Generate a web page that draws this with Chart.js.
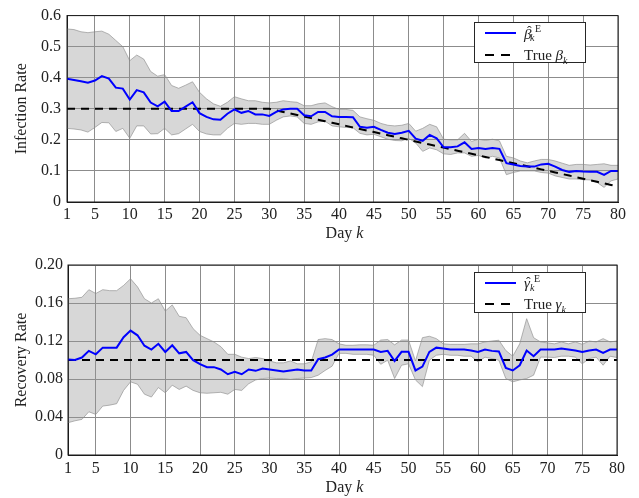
<!DOCTYPE html>
<html>
<head>
<meta charset="utf-8">
<script src="https://cdn.jsdelivr.net/npm/chart.js@4.4.1/dist/chart.umd.min.js"></script>
<style>
  html,body{margin:0;padding:0;background:#fff;}
  body{width:639px;height:498px;position:relative;overflow:hidden;font-family:"Liberation Serif",serif;}
  .wrap{position:absolute;left:0;width:639px;}
  .leg{position:absolute;background:#fff;border:1px solid #262626;box-sizing:border-box;font-size:15px;color:#222;}
  .ln{position:absolute;height:0;}
  .t{position:absolute;white-space:nowrap;line-height:1;}
  .s{font-size:10px;}
  .dash{position:absolute;height:0;border-top:2px solid #000;width:9px;}
</style>
</head>
<body>
<div class="wrap" style="top:0;height:250px;"><canvas id="c1" width="639" height="250"></canvas></div>
<div class="wrap" style="top:250px;height:248px;"><canvas id="c2" width="639" height="248"></canvas></div>

<div class="leg" style="left:474px;top:22px;width:112px;height:41px;">
  <div class="ln" style="left:10px;top:9px;width:31px;border-top:2px solid #0000ff;"></div>
  <div class="t" style="left:49px;top:4px;"><i>β</i></div>
  <div class="t" style="left:52px;top:2px;font-size:14px;">ˆ</div>
  <div class="t s" style="left:60px;top:1px;">E</div>
  <div class="t s" style="left:55px;top:10px;"><i>k</i></div>
  <div class="dash" style="left:10px;top:31px;"></div>
  <div class="dash" style="left:26px;top:31px;"></div>
  <div class="t" style="left:49px;top:25px;">True <i>β</i><sub style="font-size:10px;"><i>k</i></sub></div>
</div>
<div class="leg" style="left:474px;top:272px;width:112px;height:41px;">
  <div class="ln" style="left:10px;top:9px;width:31px;border-top:2px solid #0000ff;"></div>
  <div class="t" style="left:49px;top:3px;"><i>γ</i></div>
  <div class="t" style="left:51px;top:3px;font-size:14px;">ˆ</div>
  <div class="t s" style="left:59px;top:1px;">E</div>
  <div class="t s" style="left:55px;top:10px;"><i>k</i></div>
  <div class="dash" style="left:10px;top:30px;"></div>
  <div class="dash" style="left:26px;top:30px;"></div>
  <div class="t" style="left:49px;top:24px;">True <i>γ</i><sub style="font-size:10px;"><i>k</i></sub></div>
</div>

<script>
// ---------- data ----------
const days = Array.from({length: 80}, (_, i) => i + 1);
const dayTicks = [1, 5, 10, 15, 20, 25, 30, 35, 40, 45, 50, 55, 60, 65, 70, 75, 80];

const betaTicks = [0, 0.1, 0.2, 0.3, 0.4, 0.5, 0.6];
const betaTickLabels = ['0', '0.1', '0.2', '0.3', '0.4', '0.5', '0.6'];
const gammaTicks = [0, 0.04, 0.08, 0.12, 0.16, 0.20];
const gammaTickLabels = ['0', '0.04', '0.08', '0.12', '0.16', '0.20'];

const betaEst = [
  0.397, 0.393, 0.389, 0.384, 0.391, 0.405, 0.397, 0.368, 0.365, 0.330,
  0.360, 0.353, 0.320, 0.308, 0.323, 0.293, 0.293, 0.307, 0.321, 0.286,
  0.274, 0.266, 0.265, 0.284, 0.298, 0.287, 0.293, 0.282, 0.282, 0.277,
  0.290, 0.298, 0.300, 0.300, 0.279, 0.276, 0.290, 0.290, 0.276, 0.274,
  0.274, 0.273, 0.242, 0.239, 0.242, 0.232, 0.223, 0.219, 0.223, 0.229,
  0.204, 0.197, 0.216, 0.205, 0.176, 0.176, 0.179, 0.192, 0.171, 0.174,
  0.171, 0.174, 0.171, 0.125, 0.121, 0.116, 0.114, 0.114, 0.121, 0.123,
  0.114, 0.103, 0.097, 0.100, 0.098, 0.097, 0.097, 0.087, 0.100, 0.100
];
const betaUpper = [
  0.557, 0.555, 0.548, 0.545, 0.548, 0.550, 0.540, 0.520, 0.500, 0.455,
  0.473, 0.460, 0.420, 0.405, 0.410, 0.375, 0.366, 0.376, 0.387, 0.353,
  0.332, 0.316, 0.308, 0.321, 0.339, 0.332, 0.326, 0.326, 0.321, 0.319,
  0.321, 0.326, 0.323, 0.321, 0.310, 0.310, 0.316, 0.319, 0.307, 0.298,
  0.298, 0.295, 0.274, 0.268, 0.263, 0.253, 0.247, 0.245, 0.247, 0.253,
  0.228, 0.237, 0.250, 0.242, 0.202, 0.200, 0.200, 0.221, 0.195, 0.202,
  0.198, 0.202, 0.197, 0.147, 0.142, 0.132, 0.126, 0.132, 0.137, 0.137,
  0.132, 0.125, 0.118, 0.121, 0.121, 0.119, 0.121, 0.123, 0.118, 0.118
];
const betaLower = [
  0.237, 0.235, 0.232, 0.225, 0.240, 0.256, 0.255, 0.227, 0.237, 0.205,
  0.245, 0.245, 0.219, 0.220, 0.237, 0.216, 0.220, 0.235, 0.250, 0.227,
  0.219, 0.216, 0.216, 0.237, 0.253, 0.250, 0.253, 0.253, 0.250, 0.250,
  0.263, 0.274, 0.277, 0.274, 0.253, 0.250, 0.258, 0.260, 0.245, 0.242,
  0.240, 0.239, 0.221, 0.216, 0.218, 0.210, 0.202, 0.198, 0.197, 0.205,
  0.190, 0.163, 0.174, 0.168, 0.155, 0.153, 0.158, 0.158, 0.147, 0.150,
  0.142, 0.147, 0.142, 0.088, 0.095, 0.100, 0.100, 0.100, 0.095, 0.093,
  0.084, 0.079, 0.074, 0.074, 0.072, 0.071, 0.063, 0.047, 0.068, 0.074
];
const betaTrue = [
  0.300, 0.300, 0.300, 0.300, 0.300, 0.300, 0.300, 0.300, 0.300, 0.300,
  0.300, 0.300, 0.300, 0.300, 0.300, 0.300, 0.300, 0.300, 0.300, 0.300,
  0.300, 0.300, 0.300, 0.300, 0.300, 0.300, 0.300, 0.300, 0.300, 0.300,
  0.295, 0.290, 0.285, 0.280, 0.275, 0.270, 0.265, 0.260, 0.255, 0.250,
  0.245, 0.240, 0.235, 0.230, 0.225, 0.220, 0.215, 0.210, 0.205, 0.200,
  0.195, 0.190, 0.185, 0.180, 0.175, 0.170, 0.165, 0.160, 0.155, 0.150,
  0.145, 0.140, 0.135, 0.130, 0.125, 0.120, 0.115, 0.110, 0.105, 0.100,
  0.095, 0.090, 0.085, 0.080, 0.075, 0.070, 0.065, 0.060, 0.055, 0.050
];

const gammaEst = [
  0.1005, 0.1000, 0.1026, 0.1096, 0.1060, 0.1130, 0.1130, 0.1130, 0.1240, 0.1310,
  0.1260, 0.1150, 0.1110, 0.1170, 0.1085, 0.1155, 0.1070, 0.1085, 0.0998, 0.0956,
  0.0925, 0.0925, 0.0900, 0.0850, 0.0875, 0.0850, 0.0900, 0.0886, 0.0910, 0.0900,
  0.0890, 0.0880, 0.0890, 0.0900, 0.0890, 0.0890, 0.1008, 0.1026, 0.1057, 0.1110,
  0.1110, 0.1110, 0.1110, 0.1110, 0.1110, 0.1085, 0.1096, 0.0990, 0.1086, 0.1086,
  0.0890, 0.0930, 0.1085, 0.1130, 0.1120, 0.1110, 0.1110, 0.1110, 0.1100, 0.1085,
  0.1110, 0.1096, 0.1090, 0.0917, 0.0890, 0.0945, 0.1100, 0.1040, 0.1110, 0.1110,
  0.1110, 0.1120, 0.1110, 0.1100, 0.1085, 0.1100, 0.1110, 0.1075, 0.1110, 0.1110
];
const gammaUpper = [
  0.1645, 0.1650, 0.1660, 0.1740, 0.1700, 0.1740, 0.1730, 0.1730, 0.1785, 0.1855,
  0.1770, 0.1645, 0.1600, 0.1645, 0.1515, 0.1580, 0.1460, 0.1445, 0.1330, 0.1260,
  0.1225, 0.1190, 0.1140, 0.1060, 0.1060, 0.1030, 0.1015, 0.1026, 0.1015, 0.0990,
  0.0970, 0.0970, 0.0990, 0.0960, 0.0960, 0.0980, 0.1215, 0.1225, 0.1215, 0.1170,
  0.1155, 0.1155, 0.1160, 0.1160, 0.1155, 0.1210, 0.1215, 0.1160, 0.1210, 0.1210,
  0.0990, 0.1235, 0.1250, 0.1225, 0.1170, 0.1165, 0.1165, 0.1165, 0.1170, 0.1170,
  0.1190, 0.1200, 0.1208, 0.1100, 0.1040, 0.1170, 0.1435, 0.1235, 0.1190, 0.1180,
  0.1170, 0.1190, 0.1170, 0.1190, 0.1165, 0.1200, 0.1190, 0.1225, 0.1190, 0.1200
];
const gammaLower = [
  0.0340, 0.0360, 0.0375, 0.0455, 0.0427, 0.0515, 0.0525, 0.0540, 0.0680, 0.0770,
  0.0745, 0.0640, 0.0610, 0.0710, 0.0655, 0.0735, 0.0690, 0.0725, 0.0680, 0.0655,
  0.0650, 0.0655, 0.0660, 0.0640, 0.0690, 0.0680, 0.0750, 0.0790, 0.0805, 0.0810,
  0.0805, 0.0805, 0.0795, 0.0805, 0.0810, 0.0815, 0.0840, 0.0890, 0.0935, 0.1070,
  0.1070, 0.1060, 0.1060, 0.1060, 0.1050, 0.0955, 0.0998, 0.0805, 0.0945, 0.0960,
  0.0790, 0.0720, 0.0998, 0.1050, 0.1060, 0.1050, 0.1050, 0.1040, 0.1040, 0.0980,
  0.1030, 0.1015, 0.0998, 0.0805, 0.0770, 0.0790, 0.0805, 0.0840, 0.1030, 0.1030,
  0.1026, 0.1040, 0.1040, 0.1030, 0.0960, 0.1015, 0.1030, 0.0945, 0.1040, 0.1026
];
const gammaTrue = [
  0.1, 0.1, 0.1, 0.1, 0.1, 0.1, 0.1, 0.1, 0.1, 0.1,
  0.1, 0.1, 0.1, 0.1, 0.1, 0.1, 0.1, 0.1, 0.1, 0.1,
  0.1, 0.1, 0.1, 0.1, 0.1, 0.1, 0.1, 0.1, 0.1, 0.1,
  0.1, 0.1, 0.1, 0.1, 0.1, 0.1, 0.1, 0.1, 0.1, 0.1,
  0.1, 0.1, 0.1, 0.1, 0.1, 0.1, 0.1, 0.1, 0.1, 0.1,
  0.1, 0.1, 0.1, 0.1, 0.1, 0.1, 0.1, 0.1, 0.1, 0.1,
  0.1, 0.1, 0.1, 0.1, 0.1, 0.1, 0.1, 0.1, 0.1, 0.1,
  0.1, 0.1, 0.1, 0.1, 0.1, 0.1, 0.1, 0.1, 0.1, 0.1
];

// ---------- chart builder ----------
Chart.defaults.font.family = '"Liberation Serif", serif';
Chart.defaults.font.size = 16;
Chart.defaults.color = '#222';

const pts = arr => days.map((d, i) => ({x: d, y: arr[i]}));

const framePlugin = {
  id: 'frame',
  afterDatasetsDraw(chart) {
    const {ctx, chartArea: a} = chart;
    ctx.save();
    ctx.strokeStyle = '#1a1a1a';
    ctx.lineWidth = 1;
    ctx.strokeRect(a.left, a.top, a.right - a.left, a.bottom - a.top);
    ctx.restore();
  }
};
const xTitlePlugin = {
  id: 'xTitle',
  afterDraw(chart, args, opts) {
    const {ctx, chartArea: a} = chart;
    ctx.save();
    ctx.fillStyle = '#222';
    ctx.textBaseline = 'middle';
    const f1 = '16px "Liberation Serif", serif';
    const f2 = 'italic 16px "Liberation Serif", serif';
    ctx.font = f1; const w1 = ctx.measureText('Day ').width;
    ctx.font = f2; const w2 = ctx.measureText('k').width;
    const cx = (a.left + a.right) / 2 + 2;
    let x = cx - (w1 + w2) / 2;
    ctx.font = f1; ctx.textAlign = 'left'; ctx.fillText('Day ', x, opts.y);
    ctx.font = f2; ctx.fillText('k', x + w1, opts.y);
    ctx.restore();
  }
};

function build(id, cfg) {
  const bandFill = 'rgba(150,150,150,0.38)';
  const bandEdge = 'rgba(140,140,140,0.8)';
  return new Chart(document.getElementById(id), {
    type: 'line',
    data: {
      datasets: [
        {data: pts(cfg.lower), borderColor: bandEdge, borderWidth: 0.8, pointRadius: 0, fill: false, tension: 0, order: 3},
        {data: pts(cfg.upper), borderColor: bandEdge, borderWidth: 0.8, pointRadius: 0, fill: '-1', backgroundColor: bandFill, tension: 0, order: 3},
        {data: pts(cfg.truth), borderColor: '#000', borderWidth: 2, borderDash: [8, 6], pointRadius: 0, fill: false, tension: 0, order: 2},
        {data: pts(cfg.est), borderColor: '#0000ff', borderWidth: 2, pointRadius: 0, fill: false, tension: 0, order: 1}
      ]
    },
    options: {
      responsive: false,
      animation: false,
      layout: {padding: {left: 0, right: cfg.padRight, top: cfg.padTop, bottom: 0}},
      plugins: {legend: {display: false}, tooltip: {enabled: false}, xTitle: {y: cfg.xTitleY}},
      scales: {
        x: {
          type: 'linear', min: 1, max: 80,
          afterBuildTicks: s => { s.ticks = dayTicks.map(v => ({value: v})); },
          afterFit: s => { s.height = cfg.xAxisH; },
          ticks: {padding: cfg.xTickPad, maxRotation: 0, autoSkip: false, callback: v => String(v)},
          grid: {color: '#8c8c8c', lineWidth: 1, drawTicks: false},
          border: {color: '#1a1a1a', width: 1}
        },
        y: {
          type: 'linear', min: cfg.yTicks[0], max: cfg.yTicks[cfg.yTicks.length - 1],
          afterBuildTicks: s => { s.ticks = cfg.yTicks.map(v => ({value: v})); },
          afterFit: s => { s.width = cfg.yAxisW; },
          ticks: {padding: cfg.yTickPad, autoSkip: false, callback: (v, i) => cfg.yLabels[i]},
          grid: {color: '#8c8c8c', lineWidth: 1, drawTicks: false},
          border: {color: '#1a1a1a', width: 1},
          title: {display: true, text: cfg.yTitle, font: {size: 16}, padding: {top: 12, bottom: 0}}
        }
      }
    },
    plugins: [framePlugin, xTitlePlugin]
  });
}

build('c1', {
  lower: betaLower, upper: betaUpper, truth: betaTrue, est: betaEst,
  yTicks: betaTicks, yLabels: betaTickLabels, yTitle: 'Infection Rate',
  padRight: 21, padTop: 12, xAxisH: 48, yAxisW: 67, xTickPad: 3, yTickPad: 6, xTitleY: 234
});
build('c2', {
  lower: gammaLower, upper: gammaUpper, truth: gammaTrue, est: gammaEst,
  yTicks: gammaTicks, yLabels: gammaTickLabels, yTitle: 'Recovery Rate',
  padRight: 22, padTop: 15, xAxisH: 43, yAxisW: 68, xTickPad: 4, yTickPad: 5, xTitleY: 238
});
</script>
</body>
</html>
